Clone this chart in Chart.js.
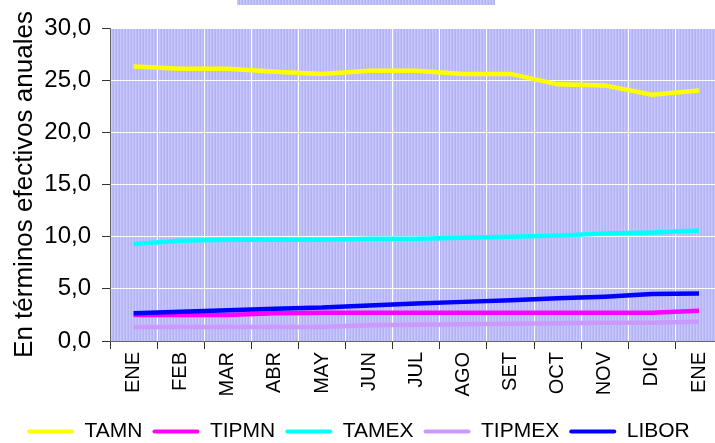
<!DOCTYPE html>
<html>
<head>
<meta charset="utf-8">
<script src="https://cdn.jsdelivr.net/npm/chart.js@4.4.0/dist/chart.umd.min.js"></script>
<style>
  html, body { margin: 0; padding: 0; overflow: hidden; background: #fff; }
  #grafico { display: block; }
</style>
</head>
<body>
<canvas id="grafico" width="726" height="452"></canvas>
<script>
// meses del periodo
const meses = ['ENE', 'FEB', 'MAR', 'ABR', 'MAY', 'JUN', 'JUL', 'AGO', 'SET', 'OCT', 'NOV', 'DIC', 'ENE']

// tasas en términos efectivos anuales (%)
const tamn = [26.3, 26.1, 26.1, 25.8, 25.6, 25.9, 25.9, 25.6, 25.6, 24.6, 24.5, 23.6, 24.0]
const tipmn = [2.5, 2.5, 2.5, 2.65, 2.7, 2.7, 2.7, 2.7, 2.7, 2.7, 2.7, 2.7, 2.9]
const tamex = [9.3, 9.6, 9.7, 9.7, 9.7, 9.8, 9.8, 9.9, 10.0, 10.1, 10.3, 10.4, 10.6]
const tipmex = [1.35, 1.35, 1.35, 1.35, 1.35, 1.5, 1.55, 1.6, 1.65, 1.7, 1.75, 1.75, 1.85]
const libor = [2.65, 2.8, 2.95, 3.1, 3.2, 3.4, 3.6, 3.75, 3.9, 4.1, 4.25, 4.5, 4.55]

// eje vertical
const ejeMin = 0
const ejeMax = 30
const ejePaso = 5

const fuente = "'Liberation Sans', Arial, sans-serif"

let rayado = null
const crearRayado = (ctx) => {
  if (rayado) return rayado
  const c = document.createElement('canvas')
  c.width = 3
  c.height = 1
  const p = c.getContext('2d')
  p.fillStyle = '#c8c8ff'
  p.fillRect(0, 0, 1, 1)
  p.fillStyle = '#bcbcfb'
  p.fillRect(1, 0, 1, 1)
  p.fillStyle = '#b3b3f2'
  p.fillRect(2, 0, 1, 1)
  rayado = ctx.createPattern(c, 'repeat')
  return rayado
}

const fondo = {
  id: 'fondo',
  beforeDraw(chart) {
    const { ctx, chartArea: a } = chart
    ctx.save()
    ctx.fillStyle = crearRayado(ctx)
    ctx.fillRect(a.left, a.top, a.right - a.left, a.bottom - a.top)
    // recuadro del título
    ctx.fillRect(237, 0, 258, 5)
    ctx.restore()
  },
}

const series = [
  { label: 'TAMN', data: tamn, color: '#ffff00' },
  { label: 'TIPMN', data: tipmn, color: '#ff00ff' },
  { label: 'TAMEX', data: tamex, color: '#00ffff' },
  { label: 'TIPMEX', data: tipmex, color: '#cc99ff' },
  { label: 'LIBOR', data: libor, color: '#0000ff' },
]

new Chart(document.getElementById('grafico'), {
  type: 'line',
  data: {
    labels: meses,
    datasets: series.map((s, i) => ({
      label: s.label,
      data: s.data,
      borderColor: s.color,
      backgroundColor: s.color,
      borderWidth: 4.5,
      pointRadius: 0,
      tension: 0,
      fill: false,
      order: series.length - i,
    })),
  },
  options: {
    responsive: false,
    animation: false,
    events: [],
    layout: { padding: { left: 17, top: 28, right: 0, bottom: 0 } },
    plugins: {
      tooltip: { enabled: false },
      legend: {
        position: 'bottom',
        align: 'start',
        labels: {
          boxWidth: 47,
          boxHeight: 4,
          padding: 10,
          color: '#000',
          font: { family: fuente, size: 21 },
          generateLabels: (chart) =>
            chart.data.datasets.map((d, i) => ({
              text: d.label,
              fillStyle: d.borderColor,
              strokeStyle: d.borderColor,
              lineWidth: 0,
              borderRadius: 2,
              hidden: false,
              datasetIndex: i,
            })),
        },
      },
    },
    scales: {
      x: {
        offset: true,
        afterFit: (scale) => { scale.height = 70 },
        grid: { offset: true, color: '#ffffff', lineWidth: 1, tickColor: '#333', tickLength: 8 },
        border: { color: '#666', width: 1 },
        ticks: {
          autoSkip: false,
          maxRotation: 90,
          minRotation: 90,
          padding: 3,
          color: '#000',
          font: { family: fuente, size: 20 },
        },
      },
      y: {
        min: ejeMin,
        max: ejeMax,
        afterFit: (scale) => { scale.width = 93 },
        grid: { color: '#ffffff', lineWidth: 1, tickColor: '#333', tickLength: 8 },
        border: { color: '#666', width: 1 },
        ticks: {
          stepSize: ejePaso,
          padding: 11,
          color: '#000',
          font: { family: fuente, size: 24 },
          callback: (v) => v.toFixed(1).replace('.', ','),
        },
        title: {
          display: true,
          text: 'En términos efectivos anuales',
          color: '#000',
          font: { family: fuente, size: 26, lineHeight: 1 },
          padding: { top: -5, bottom: 0 },
        },
      },
    },
  },
  plugins: [fondo],
})
</script>
</body>
</html>
